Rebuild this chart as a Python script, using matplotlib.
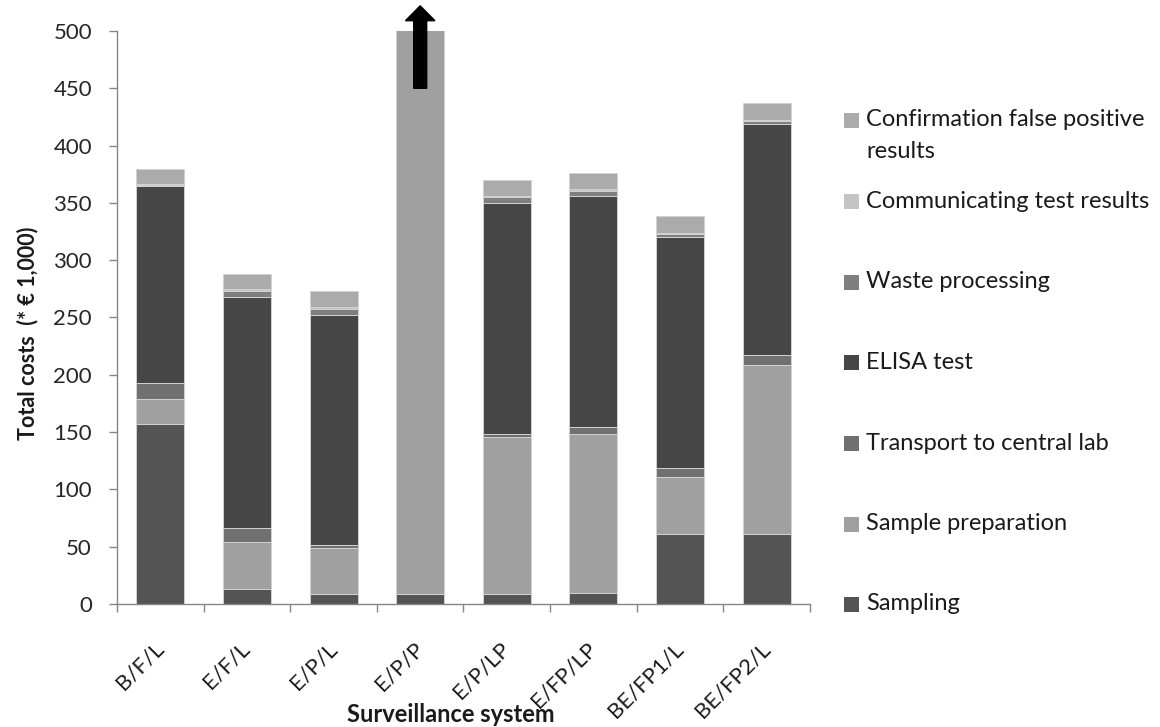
import matplotlib
matplotlib.use('Agg')
import matplotlib.pyplot as plt
from matplotlib.patches import Rectangle
import numpy as np

plt.rcParams['font.family'] = ['Lato', 'DejaVu Sans']

# categories and cost components (* EUR 1,000)
systems = ['B/F/L', 'E/F/L', 'E/P/L', 'E/P/P', 'E/P/LP', 'E/FP/LP', 'BE/FP1/L', 'BE/FP2/L']
sampling = [157, 13, 8.5, 8.5, 8.5, 9.5, 61, 61]
sample_prep = [22, 41, 40, 1100, 137.5, 138.5, 50, 147.5]
transport = [14, 12.5, 3.2, 3, 2.3, 6.7, 8, 9]
elisa = [172, 201.5, 200.5, 0, 201.3, 201.6, 201.5, 201.3]
waste = [0.5, 5.5, 5.2, 5, 5.8, 4.4, 2.1, 2.3]
communicating = [1, 1.5, 1.8, 1.5, 0.9, 1.2, 1.1, 1.5]
confirmation = [13, 13, 14.2, 14, 13.4, 14.5, 14.6, 14.5]

components = [
    ('Sampling', sampling, '#545454'),
    ('Sample preparation', sample_prep, '#a0a0a0'),
    ('Transport to central lab', transport, '#707070'),
    ('ELISA test', elisa, '#464646'),
    ('Waste processing', waste, '#7f7f7f'),
    ('Communicating test results', communicating, '#c4c4c4'),
    ('Confirmation false positive\nresults', confirmation, '#ababab'),
]

W, H = 1160, 727
fig = plt.figure(figsize=(W / 100, H / 100), dpi=100)
ax = fig.add_axes([117 / W, 1 - 604 / H, (810 - 117) / W, (604 - 31) / H])

x = np.arange(len(systems))
bottom = np.zeros(len(systems))
for name, vals, col in components:
    vals = np.array(vals, dtype=float)
    ax.bar(x, vals, 0.555, bottom=bottom, color=col, edgecolor='#d2d2d2', linewidth=0.7)
    bottom += vals

ax.set_ylim(0, 500)
ax.set_xlim(-0.5, len(systems) - 0.5)
ax.set_yticks(np.arange(0, 501, 50))
ax.tick_params(axis='y', direction='out', length=6, width=1, color='#868686',
               labelsize=16, labelcolor='#262626', pad=12)

# category labels at centres, tick marks at category boundaries
ax.set_xticks(x)
ax.set_xticklabels(systems, rotation=45, ha='right', va='center', rotation_mode='anchor',
                   fontsize=16, color='#1a1a1a')
ax.tick_params(axis='x', which='major', length=0, pad=30)
ax.set_xticks(np.arange(-0.5, len(systems), 1), minor=True)
ax.tick_params(axis='x', which='minor', direction='out', length=6, width=1, color='#868686')

for s in ['top', 'right']:
    ax.spines[s].set_visible(False)
for s in ['left', 'bottom']:
    ax.spines[s].set_color('#868686')
    ax.spines[s].set_linewidth(1)

# off-scale arrow on E/P/P
ax.arrow(3, 450, 0, 72, width=0.15, head_width=0.34, head_length=13,
         length_includes_head=True, color='black', clip_on=False, zorder=5)

fig.text(451 / W, 1 - 715 / H, 'Surveillance system', ha='center', va='center',
         fontsize=17, fontweight='bold', color='#1a1a1a')
fig.text(28 / W, 1 - 333 / H, 'Total costs  (* \u20ac 1,000)', rotation=90, ha='center',
         va='center', fontsize=15.5, fontweight='bold', color='#1a1a1a')

# legend, drawn manually (reverse order, first patch aligned with first line)
ys = [120, 201, 282, 362, 443, 524, 604]
for (name, vals, col), yc in zip(components[::-1], ys):
    fig.add_artist(Rectangle((844 / W, 1 - (yc + 7.5) / H), 15 / W, 15 / H,
                             transform=fig.transFigure, color=col, lw=0))
    for i, line in enumerate(name.split('\n')):
        fig.text(866 / W, 1 - (yc + 32 * i) / H, line, ha='left', va='center',
                 fontsize=17, color='#1a1a1a')

fig.savefig('out.png', dpi=100)
